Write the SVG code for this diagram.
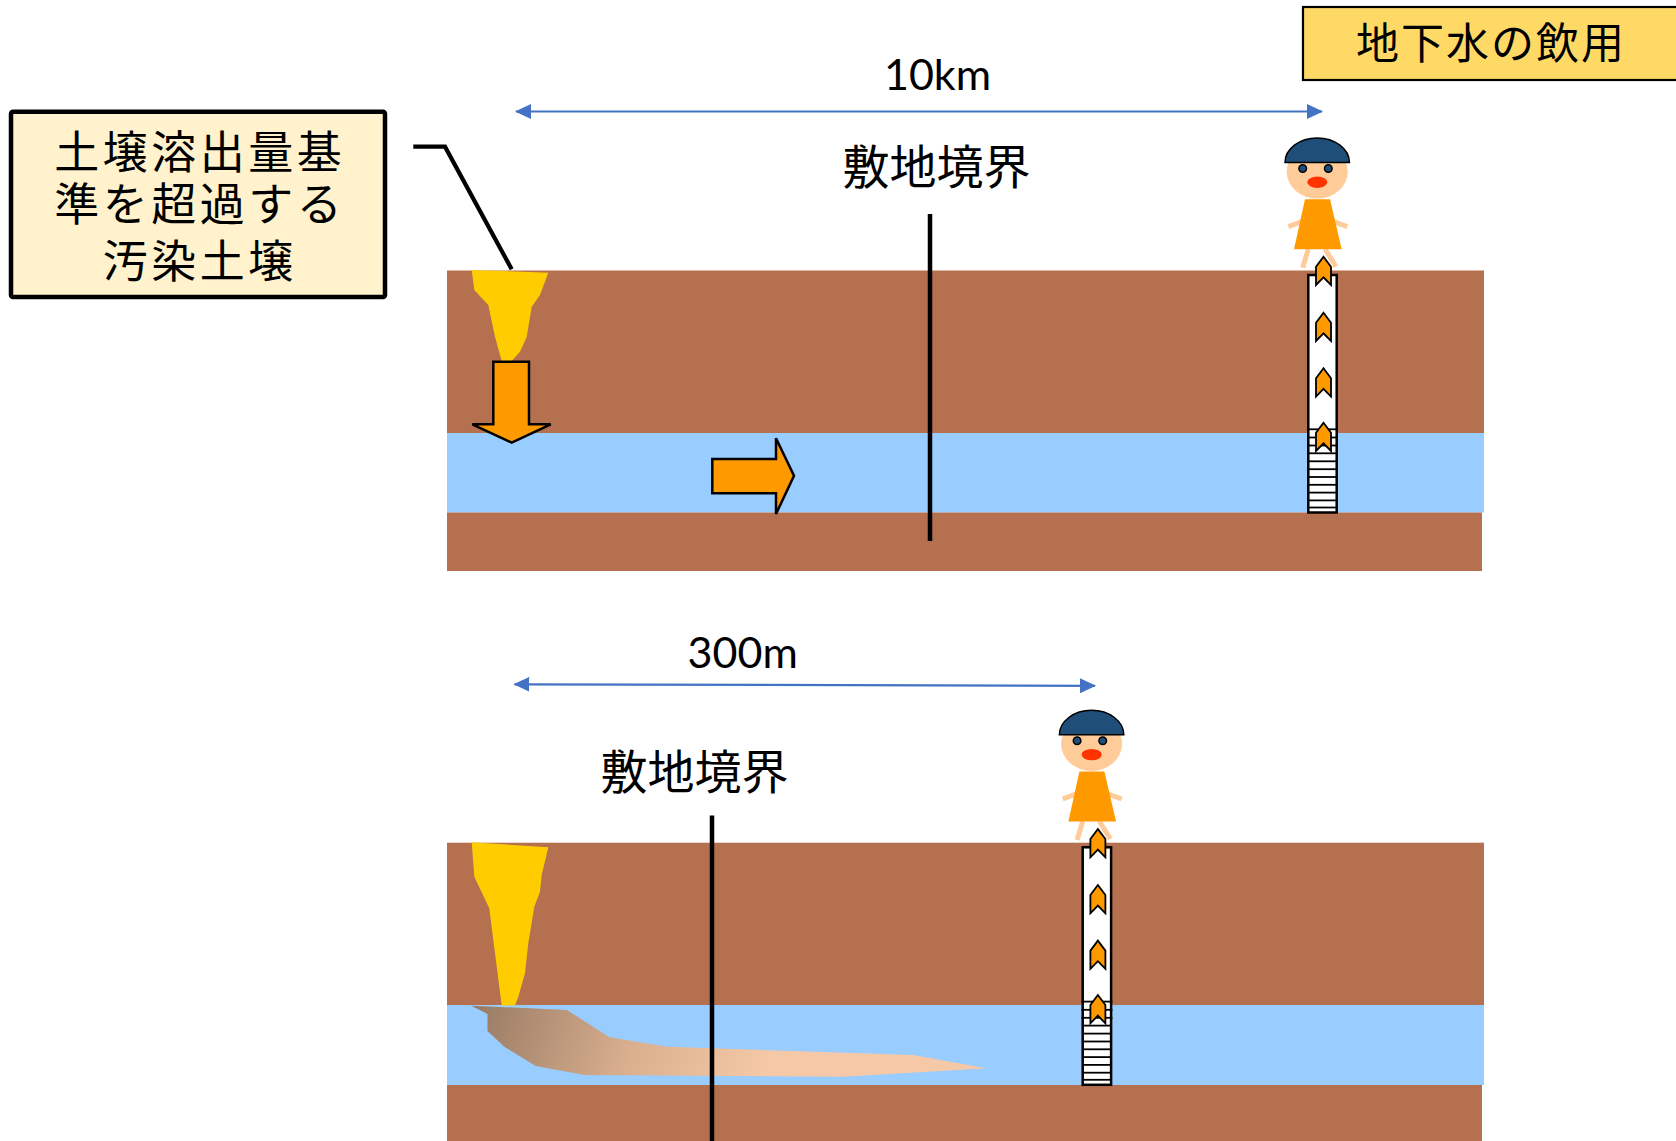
<svg xmlns="http://www.w3.org/2000/svg" width="1676" height="1141" viewBox="0 0 1676 1141">
  <style>
    .soil { fill: #B5714F; }
    .water { fill: #99CCFF; }
    .contam { fill: #FFCC00; }
    .flow { fill: #FF9900; stroke: #000; stroke-width: 2.5; stroke-linejoin: miter; }
    .boundary { stroke: #000; stroke-width: 4.5; fill: none; }
    .dim { stroke: #4472C4; stroke-width: 2.2; fill: none; }
    .jp { font-family: "Noto Sans CJK JP", "Noto Sans", sans-serif; fill: #000; }
    .lat { font-family: Lato, "Liberation Sans", sans-serif; fill: #000; font-size: 43px; }
    .skin { fill: #FFCC99; }
    .limb { stroke: #FFCC99; stroke-width: 5; fill: none; }
    .hair { fill: #1F4E79; stroke: #000; stroke-width: 1.5; }
    .eye { fill: #1F4E79; stroke: #000; stroke-width: 1.5; }
    .mouth { fill: #FF3300; }
    .dress { fill: #FF9900; }
    .casing { fill: #FFFFFF; stroke: #000; stroke-width: 2.5; }
    .screen { stroke: #000; stroke-width: 1.8; }
    .chev { fill: #FF9900; stroke: #000; stroke-width: 1.8; stroke-linejoin: miter; }
  </style>
  <defs>
    <marker id="dimHead" viewBox="0 0 16 15" refX="15" refY="7.5" markerWidth="16" markerHeight="15" markerUnits="userSpaceOnUse" orient="auto-start-reverse">
      <path d="M0,0 L16,7.5 L0,15 Z" fill="#4472C4"/>
    </marker>
    <linearGradient id="plumeGrad" gradientUnits="userSpaceOnUse" x1="470" y1="1000" x2="760" y2="1090">
      <stop offset="0" stop-color="#957862"/>
      <stop offset="0.55" stop-color="#D9AF8E"/>
      <stop offset="1" stop-color="#F5C9A8"/>
    </linearGradient>
    <!-- person standing on the well head -->
    <g id="personShape">
      <line class="limb" x1="1288.3" y1="226.7" x2="1306" y2="220"/>
      <line class="limb" x1="1329" y1="220" x2="1347.3" y2="226.7"/>
      <line class="limb" x1="1308.3" y1="249" x2="1302.7" y2="267.7"/>
      <line class="limb" x1="1325" y1="249" x2="1336" y2="266.7"/>
      <polygon class="dress" points="1305,199.3 1330,199.3 1341.7,249.3 1294,249.3"/>
      <ellipse class="skin" cx="1317.2" cy="171.7" rx="30.5" ry="27"/>
      <path class="hair" d="M1285,162.5 A32.2,24.5 0 0 1 1349.4,162.5 Z"/>
      <circle class="eye" cx="1302.7" cy="168.5" r="3.8"/>
      <circle class="eye" cx="1328.3" cy="168.5" r="3.8"/>
      <ellipse class="mouth" cx="1317.3" cy="182.3" rx="10" ry="5.7"/>
    </g>
    <!-- well casing with screen and upward flow chevrons -->
    <g id="wellShape">
      <rect class="casing" x="1308.3" y="275" width="28.4" height="237.5"/>
      <g class="screen">
        <line x1="1307" y1="429.3" x2="1338" y2="429.3"/>
        <line x1="1307" y1="437.5" x2="1338" y2="437.5"/>
        <line x1="1307" y1="445.5" x2="1338" y2="445.5"/>
        <line x1="1308" y1="453.3" x2="1337" y2="453.3"/>
        <line x1="1308" y1="461.3" x2="1337" y2="461.3"/>
        <line x1="1308" y1="469.2" x2="1337" y2="469.2"/>
        <line x1="1308" y1="477" x2="1337" y2="477"/>
        <line x1="1308" y1="484.8" x2="1337" y2="484.8"/>
        <line x1="1308" y1="492.6" x2="1337" y2="492.6"/>
        <line x1="1308" y1="500.4" x2="1337" y2="500.4"/>
        <line x1="1308" y1="507.5" x2="1337" y2="507.5"/>
      </g>
      <polygon class="chev" points="1323.5,256.7 1331,266.7 1331,285 1323.5,277.3 1316,285 1316,266.7"/>
      <polygon class="chev" points="1323.5,312.7 1331,322.7 1331,341 1323.5,333.3 1316,341 1316,322.7"/>
      <polygon class="chev" points="1323.5,368.3 1331,378.3 1331,396.6 1323.5,388.9 1316,396.6 1316,378.3"/>
      <polygon class="chev" points="1323.5,422.7 1331,432.7 1331,451 1323.5,443.3 1316,451 1316,432.7"/>
    </g>
  </defs>

  <!-- upper section: 10 km to the drinking-water well -->
  <g id="upperGround">
    <rect class="soil" x="447" y="270.5" width="1037" height="163"/>
    <rect class="water" x="447" y="433" width="1037" height="79.5"/>
    <rect class="soil" x="447" y="512.5" width="1035" height="58.5"/>
  </g>
  <g id="upperSource">
    <polygon class="contam" points="471.7,270 548.3,272.7 540,295 531.7,306.7 526.7,336.7 520,351.7 511.7,361 501.7,361 495,336.7 488.3,305 474.3,290"/>
  </g>
  <g id="upperDownArrow">
    <polygon class="flow" points="493.3,361.7 529,361.7 529,424.3 550.7,424.3 511.7,442.7 472.3,424.3 493.3,424.3"/>
  </g>
  <g id="upperFlowArrow">
    <polygon class="flow" points="712.3,459 776,459 776,438.3 794,475.7 776,514 776,493.3 712.3,493.3"/>
  </g>
  <g id="upperBoundary">
    <line class="boundary" x1="930" y1="214" x2="930" y2="541"/>
    <text class="jp" x="936.5" y="184" font-size="47" text-anchor="middle">敷地境界</text>
  </g>
  <g id="upperWell">
    <use href="#wellShape"/>
  </g>
  <g id="upperPerson">
    <use href="#personShape"/>
  </g>
  <g id="upperDistance">
    <text class="lat" x="937.5" y="90" text-anchor="middle">10km</text>
  </g>

  <!-- lower section: 300 m to the drinking-water well -->
  <g id="lowerGround">
    <rect class="soil" x="447" y="842.7" width="1037" height="162.5"/>
    <rect class="water" x="447" y="1005" width="1037" height="80"/>
    <rect class="soil" x="447" y="1085" width="1035" height="56"/>
  </g>
  <g id="lowerSource">
    <polygon class="contam" points="471.7,842.3 548.3,847.3 541.7,875 540,891.7 534.3,906.7 528.3,943.3 525,973.3 518.3,996.7 515,1005.5 501.7,1005.5 495,953.3 489.3,908.3 474.3,876.7"/>
  </g>
  <g id="lowerPlume">
    <polygon fill="url(#plumeGrad)" points="471.4,1005.7 566.8,1010 609.6,1037.3 666.8,1046.7 913.2,1055 986.4,1068.3 843.6,1076.7 584.6,1075 535.7,1066 504.3,1046.7 487.5,1031 487.5,1014"/>
  </g>
  <g id="lowerBoundary">
    <line class="boundary" x1="712" y1="815.6" x2="712" y2="1141"/>
    <text class="jp" x="694.5" y="789" font-size="47" text-anchor="middle">敷地境界</text>
  </g>
  <g id="lowerWell">
    <use href="#wellShape" transform="translate(-225.6,572.3)"/>
  </g>
  <g id="lowerPerson">
    <use href="#personShape" transform="translate(-225.6,572.3)"/>
  </g>
  <g id="lowerDistance">
    <text class="lat" x="742.7" y="668.3" text-anchor="middle">300m</text>
  </g>

  <!-- label boxes -->
  <g id="contaminatedSoilLabel">
    <rect x="11" y="111.7" width="374" height="185.3" rx="2" fill="#FFF2CC" stroke="#000" stroke-width="4.5"/>
    <g class="jp" font-size="45" letter-spacing="3.5" text-anchor="middle">
      <text x="199.7" y="169">土壌溶出量基</text>
      <text x="199.7" y="221">準を超過する</text>
      <text x="199.7" y="278">汚染土壌</text>
    </g>
  </g>
  <g id="drinkingUseLabel">
    <rect x="1303" y="7" width="380" height="73" fill="#FFD966" stroke="#000" stroke-width="2.2"/>
    <text class="jp" x="1491" y="59" font-size="43" letter-spacing="2" text-anchor="middle">地下水の飲用</text>
  </g>

  <!-- connectors: dimension lines and label leader -->
  <g id="connectors">
    <line class="dim" x1="516" y1="111.5" x2="1322" y2="111.5" marker-start="url(#dimHead)" marker-end="url(#dimHead)"/>
    <line class="dim" x1="514.5" y1="684.3" x2="1095" y2="685.8" marker-start="url(#dimHead)" marker-end="url(#dimHead)"/>
    <polyline points="413.3,146.7 445,146.7 511.7,269.3" fill="none" stroke="#000" stroke-width="4.2" stroke-linejoin="miter"/>
  </g>
</svg>
